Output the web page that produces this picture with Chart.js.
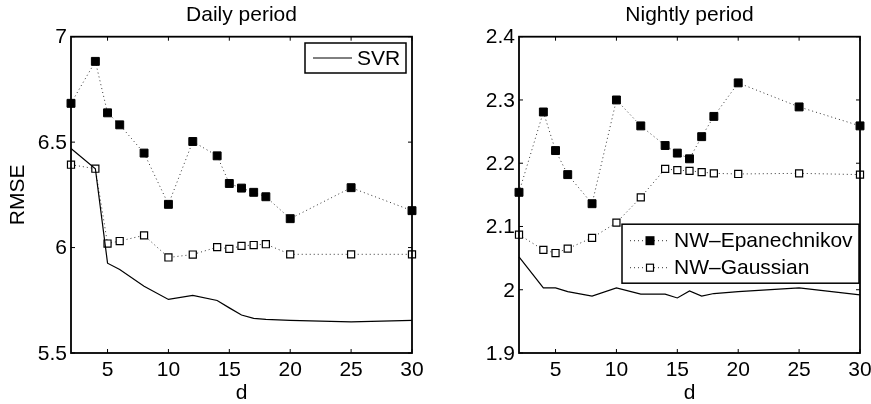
<html>
<head>
    <style>
        body { margin: 0; background: #fff; overflow: hidden; }
        #dailyChart { position: absolute; left: 0; top: 0; }
        #nightlyChart { position: absolute; left: 435px; top: 0; }
    </style>
    <script src="https://cdn.jsdelivr.net/npm/chart.js@4.4.0/dist/chart.umd.min.js"></script>
</head>
<body>
<canvas id="dailyChart" width="430" height="404"></canvas>
<canvas id="nightlyChart" width="450" height="404"></canvas>

<script>
    // d values (both panels use the same ones)
    var dValues = [2, 4, 5, 6, 8, 10, 12, 14, 15, 16, 17, 18, 20, 25, 30];
    var xTicks = [5, 10, 15, 20, 25, 30];

    // Daily period
    var dailySvr = [6.470, 6.374, 5.926, 5.896, 5.817, 5.754, 5.773, 5.749, 5.714, 5.680, 5.664, 5.659, 5.655, 5.648, 5.655];
    var dailyEpan = [6.684, 6.883, 6.639, 6.582, 6.448, 6.205, 6.503, 6.435, 6.304, 6.282, 6.262, 6.241, 6.137, 6.284, 6.175];
    var dailyGauss = [6.393, 6.374, 6.019, 6.031, 6.058, 5.953, 5.967, 6.002, 5.994, 6.008, 6.012, 6.016, 5.968, 5.968, 5.968];
    var dailyYTicks = [5.5, 6, 6.5, 7];

    // Nightly period
    var nightlySvr = [2.052, 2.003, 2.003, 1.997, 1.990, 2.003, 1.993, 1.993, 1.987, 1.998, 1.990, 1.994, 1.997, 2.003, 1.992];
    var nightlyEpan = [2.154, 2.281, 2.220, 2.182, 2.136, 2.300, 2.259, 2.228, 2.216, 2.207, 2.242, 2.274, 2.327, 2.289, 2.259];
    var nightlyGauss = [2.087, 2.063, 2.058, 2.065, 2.082, 2.106, 2.146, 2.191, 2.189, 2.188, 2.186, 2.184, 2.183, 2.184, 2.182];
    var nightlyYTicks = [1.9, 2, 2.1, 2.2, 2.3, 2.4];

    var seriesNames = ['SVR', 'NW\u2013Epanechnikov', 'NW\u2013Gaussian'];

    Chart.defaults.font.family = '"Liberation Sans", Arial, Helvetica, sans-serif';
    Chart.defaults.color = '#000';

    var FONT = { size: 21, lineHeight: 1.2 };

    function toPoints(ys) {
        var pts = [];
        for (var i = 0; i < dValues.length; i++) {
            pts.push({ x: dValues[i], y: ys[i] });
        }
        return pts;
    }

    function fmt(v) {
        return String(+v.toFixed(2));
    }

    function drawMarker(ctx, x, y, filled) {
        ctx.save();
        ctx.setLineDash([]);
        ctx.lineWidth = 1.2;
        ctx.strokeStyle = '#000';
        if (filled) {
            ctx.fillStyle = '#000';
            ctx.fillRect(x - 4.5, y - 4.5, 9, 9);
        } else {
            ctx.fillStyle = '#fff';
            ctx.fillRect(x - 3.5, y - 3.5, 7, 7);
            ctx.strokeRect(x - 3.5, y - 3.5, 7, 7);
        }
        ctx.restore();
    }

    // box around the plot, inward ticks on all sides, and the legend
    var framePlugin = {
        id: 'frame',
        afterDatasetsDraw: function(chart, args, opts) {
            var ctx = chart.ctx;
            var a = chart.chartArea;
            var xs = chart.scales.x, ys = chart.scales.y;

            ctx.save();
            ctx.strokeStyle = '#000';
            ctx.lineWidth = 1;
            ctx.beginPath();
            xs.ticks.forEach(function(t) {
                var px = xs.getPixelForValue(t.value);
                ctx.moveTo(px, a.bottom); ctx.lineTo(px, a.bottom - 4);
                ctx.moveTo(px, a.top); ctx.lineTo(px, a.top + 4);
            });
            ys.ticks.forEach(function(t) {
                var py = ys.getPixelForValue(t.value);
                ctx.moveTo(a.left, py); ctx.lineTo(a.left + 4, py);
                ctx.moveTo(a.right, py); ctx.lineTo(a.right - 4, py);
            });
            ctx.stroke();

            ctx.lineWidth = 1.8;
            ctx.strokeRect(a.left, a.top, a.right - a.left, a.bottom - a.top);

            // legend
            var lg = opts.legend;
            var bx = a.right - lg.right - lg.width;
            var by = a.top + lg.top;
            ctx.fillStyle = '#fff';
            ctx.fillRect(bx, by, lg.width, lg.height);
            ctx.lineWidth = 1.5;
            ctx.strokeRect(bx, by, lg.width, lg.height);

            ctx.font = '21px "Liberation Sans", Arial, Helvetica, sans-serif';
            ctx.textBaseline = 'middle';
            ctx.textAlign = 'left';
            lg.items.forEach(function(it, i) {
                var ly = by + lg.firstRow + i * lg.rowGap;
                var ds = chart.data.datasets[it];
                ctx.save();
                ctx.strokeStyle = ds.borderColor;
                ctx.lineWidth = 1;
                ctx.setLineDash(ds.borderDash || []);
                ctx.beginPath();
                ctx.moveTo(bx + 8, ly);
                ctx.lineTo(bx + 47, ly);
                ctx.stroke();
                ctx.restore();
                if (ds.pointRadius > 0) {
                    drawMarker(ctx, bx + 28, ly, ds.pointBackgroundColor === '#000');
                }
                ctx.fillStyle = '#000';
                ctx.fillText(ds.label, bx + 52, ly + 1);
            });
            ctx.restore();
        }
    };

    function makeChart(id, title, svr, epan, gauss, yTicks, yWidth, padRight, yTitle, legend) {
        var datasets = [
            {
                label: seriesNames[0], data: toPoints(svr),
                borderColor: '#000', borderWidth: 1.2, pointRadius: 0,
                fill: false, tension: 0, clip: false
            },
            {
                label: seriesNames[1], data: toPoints(epan),
                borderColor: '#333', borderWidth: 1, borderDash: [1, 3],
                pointStyle: 'rect', pointRadius: 5.6, borderCapStyle: 'butt',
                pointBackgroundColor: '#000', pointBorderColor: '#000', pointBorderWidth: 1,
                fill: false, tension: 0, clip: false
            },
            {
                label: seriesNames[2], data: toPoints(gauss),
                borderColor: '#333', borderWidth: 1, borderDash: [1, 3],
                pointStyle: 'rect', pointRadius: 5, borderCapStyle: 'butt',
                pointBackgroundColor: '#fff', pointBorderColor: '#000', pointBorderWidth: 1.2,
                fill: false, tension: 0, clip: false
            }
        ];

        return new Chart(document.getElementById(id), {
            type: 'line',
            data: { datasets: datasets },
            options: {
                responsive: false,
                animation: false,
                events: [],
                layout: { padding: { left: 0, right: padRight, top: 0, bottom: 0 } },
                plugins: {
                    legend: { display: false },
                    tooltip: { enabled: false },
                    title: {
                        display: true, text: title, fullSize: false,
                        font: { size: 21, weight: 'normal', lineHeight: 1.2 },
                        padding: { top: 2.5, bottom: 9 }, color: '#000'
                    },
                    frame: { legend: legend }
                },
                scales: {
                    x: {
                        type: 'linear', min: 2, max: 30,
                        afterBuildTicks: function(s) { s.ticks = xTicks.map(function(v) { return { value: v }; }); },
                        afterFit: function(s) { s.height = 51; },
                        grid: { display: false, drawTicks: false }, border: { display: false },
                        ticks: { font: FONT, padding: 5, maxRotation: 0, autoSkip: false, color: '#000' },
                        title: {
                            display: true, text: 'd', color: '#000',
                            font: { size: 21, lineHeight: 1 }, padding: { top: 0, bottom: 0 }
                        }
                    },
                    y: {
                        type: 'linear', min: yTicks[0], max: yTicks[yTicks.length - 1],
                        afterBuildTicks: function(s) { s.ticks = yTicks.map(function(v) { return { value: v }; }); },
                        afterFit: function(s) { s.width = yWidth; },
                        grid: { display: false, drawTicks: false }, border: { display: false },
                        ticks: { font: FONT, padding: 4, color: '#000', labelOffset: 1, callback: function(v) { return fmt(v); } },
                        title: {
                            display: !!yTitle, text: yTitle || '', color: '#000',
                            font: { size: 21, lineHeight: 1 }, padding: { top: 8, bottom: 0 }
                        }
                    }
                }
            },
            plugins: [framePlugin]
        });
    }

    makeChart('dailyChart', 'Daily period', dailySvr, dailyEpan, dailyGauss, dailyYTicks, 71, 18, 'RMSE',
        { items: [0], right: 6, top: 6.3, width: 101, height: 30, firstRow: 15, rowGap: 27 });

    makeChart('nightlyChart', 'Nightly period', nightlySvr, nightlyEpan, nightlyGauss, nightlyYTicks, 84, 25, null,
        { items: [1, 2], right: 1, top: 187.5, width: 237, height: 59, firstRow: 16.5, rowGap: 27 });
</script>
</body>
</html>
